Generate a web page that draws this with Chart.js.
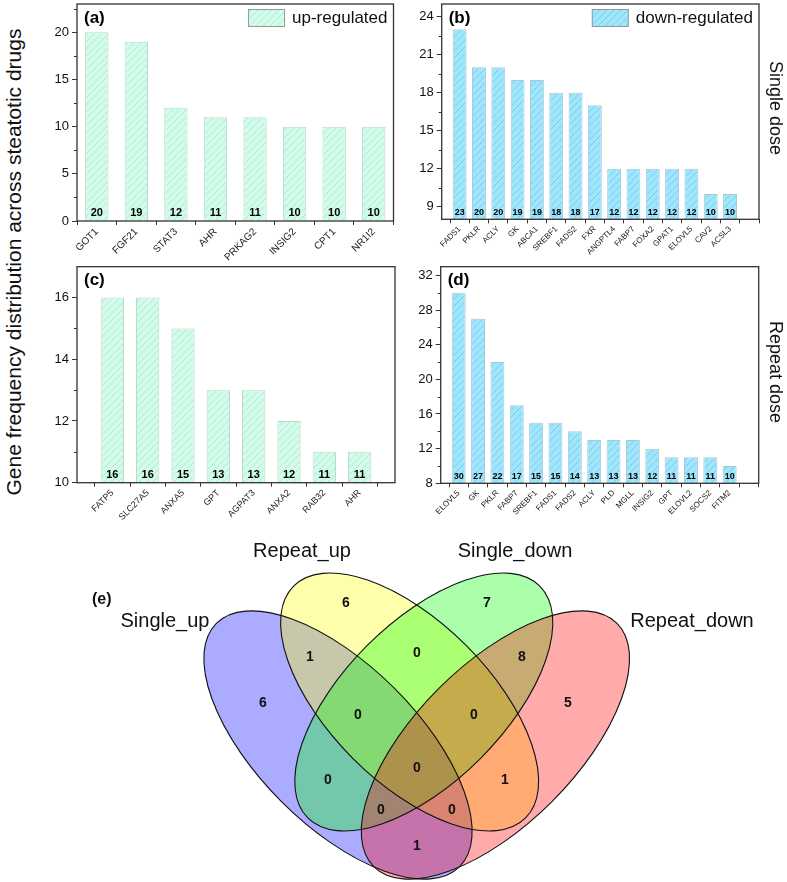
<!DOCTYPE html>
<html>
<head>
<meta charset="utf-8">
<script src="https://cdn.jsdelivr.net/npm/chart.js@4.4.1/dist/chart.umd.min.js"></script>
<style>
  body { margin: 0; background: #fff; }
  #wrap { position: relative; width: 787px; height: 882px; overflow: hidden; font-family: Arial, "Liberation Sans", sans-serif; }
  canvas { position: absolute; }
  .vt { position: absolute; white-space: nowrap; font-size: 18px; color: #111; }
</style>
</head>
<body>
<div id="wrap">
  <canvas id="cA"></canvas>
  <canvas id="cB"></canvas>
  <canvas id="cC"></canvas>
  <canvas id="cD"></canvas>
  <canvas id="cV"></canvas>
  <div class="vt" style="left:14px;top:262px;font-size:21px;transform:translate(-50%,-50%) rotate(-90deg);">Gene frequency distribution across steatotic drugs</div>
  <div class="vt" style="left:775px;top:108px;transform:translate(-50%,-50%) rotate(90deg);">Single dose</div>
  <div class="vt" style="left:775px;top:372px;transform:translate(-50%,-50%) rotate(90deg);">Repeat dose</div>
  <div class="vt" style="left:92px;top:590px;font-weight:bold;font-size:16px;">(e)</div>
</div>
<script>
const FONT = 'Arial, "Liberation Sans", sans-serif';

// (a) single dose, up-regulated
const upSingleGenes = ['GOT1', 'FGF21', 'STAT3', 'AHR', 'PRKAG2', 'INSIG2', 'CPT1', 'NR1I2'];
const upSingleCounts = [20, 19, 12, 11, 11, 10, 10, 10];
// (b) single dose, down-regulated
const downSingleGenes = ['FADS1', 'PKLR', 'ACLY', 'GK', 'ABCA1', 'SREBF1', 'FADS2', 'FXR', 'ANGPTL4', 'FABP7', 'FOXA2', 'GPAT1', 'ELOVL5', 'CAV2', 'ACSL3'];
const downSingleCounts = [23, 20, 20, 19, 19, 18, 18, 17, 12, 12, 12, 12, 12, 10, 10];
// (c) repeat dose, up-regulated
const upRepeatGenes = ['FATP5', 'SLC27A5', 'ANXA5', 'GPT', 'AGPAT3', 'ANXA2', 'RAB32', 'AHR'];
const upRepeatCounts = [16, 16, 15, 13, 13, 12, 11, 11];
// (d) repeat dose, down-regulated
const downRepeatGenes = ['ELOVL5', 'GK', 'PKLR', 'FABP7', 'SREBF1', 'FADS1', 'FADS2', 'ACLY', 'PLD', 'MGLL', 'INSIG2', 'GPT', 'ELOVL2', 'SOCS2', 'FITM2'];
const downRepeatCounts = [30, 27, 22, 17, 15, 15, 14, 13, 13, 13, 12, 11, 11, 11, 10];

// y ticks
const yTicksA = [0, 5, 10, 15, 20];
const yMinorA = [2.5, 7.5, 12.5, 17.5, 22.5];
const yTicksB = [9, 12, 15, 18, 21, 24];
const yMinorB = [10.5, 13.5, 16.5, 19.5, 22.5];
const yTicksC = [10, 12, 14, 16];
const yMinorC = [11, 13, 15];
const yTicksD = [8, 12, 16, 20, 24, 28, 32];
const yMinorD = [10, 14, 18, 22, 26, 30];

// (e) venn
const vennSets = ['Single_up', 'Repeat_up', 'Single_down', 'Repeat_down'];
const vennRegions = ['SU', 'RU', 'SD', 'RD', 'SU&RU', 'RU&SD', 'SD&RD', 'SU&RU&SD', 'RU&SD&RD', 'SU&SD', 'ALL', 'RU&RD', 'SU&SD&RD', 'SU&RU&RD', 'SU&RD'];
const vennCounts = [6, 6, 7, 5, 1, 0, 8, 0, 0, 0, 0, 1, 0, 0, 1];

// ---- layout (page pixels) ----
const vennRegionPos = [
    [263, 703], [346, 603], [487, 603], [568, 703], [310, 657], [417, 653], [522, 657],
    [358, 715], [474, 715], [328, 780], [417, 768], [505, 780], [381, 810], [452, 810], [417, 846]
];
const vennShapes = [
    { cx: 338, cy: 745, a: 172, b: 80, rot: 45, rgb: '0,0,255' },
    { cx: 409.6, cy: 702, a: 164, b: 80, rot: 45, rgb: '255,255,0' },
    { cx: 423.8, cy: 702, a: 164, b: 80, rot: -45, rgb: '0,255,0' },
    { cx: 495.4, cy: 745, a: 172, b: 80, rot: -45, rgb: '255,0,0' }
];
const vennNamePos = [[165, 621], [302, 551], [515, 551], [692, 621]];

function hatch(bg, line) {
    const c = document.createElement('canvas');
    c.width = 7; c.height = 7;
    const g = c.getContext('2d');
    g.fillStyle = bg;
    g.fillRect(0, 0, 7, 7);
    g.strokeStyle = line;
    g.lineWidth = 0.8;
    g.beginPath();
    g.moveTo(0, 7); g.lineTo(7, 0);
    g.moveTo(-1, 1); g.lineTo(1, -1);
    g.moveTo(6, 8); g.lineTo(8, 6);
    g.stroke();
    return g.createPattern(c, 'repeat');
}

const GREEN = { fill: hatch('#d2fcea', '#a9e3c8'), border: '#bcd9cc' };
const BLUE = { fill: hatch('#9fe5fb', '#74c6e4'), border: '#a6c9d8' };

const panelDeco = {
    id: 'panelDeco',
    afterDraw(chart, args, o) {
        const { ctx, chartArea: ca, scales } = chart;
        ctx.save();
        // minor ticks
        ctx.strokeStyle = '#333';
        ctx.lineWidth = 1;
        ctx.beginPath();
        o.minor.forEach(v => {
            const y = Math.round(scales.y.getPixelForValue(v)) + 0.5;
            ctx.moveTo(ca.left - 3, y);
            ctx.lineTo(ca.left, y);
        });
        ctx.stroke();
        // frame
        ctx.lineWidth = 1.3;
        ctx.strokeStyle = '#333';
        ctx.strokeRect(ca.left, ca.top, ca.right - ca.left, ca.bottom - ca.top);

        // counts at bar foot
        const meta = chart.getDatasetMeta(0);
        const data = chart.data.datasets[0].data;
        ctx.fillStyle = '#000';
        ctx.font = 'bold ' + o.valueSize + 'px ' + FONT;
        ctx.textAlign = 'center';
        ctx.textBaseline = 'middle';
        meta.data.forEach((bar, i) => ctx.fillText(data[i].y, bar.x, ca.bottom - o.valueLift));

        // panel letter
        ctx.font = 'bold 17px ' + FONT;
        ctx.textAlign = 'left';
        ctx.fillText(o.letter, ca.left + 7, ca.top + 14);

        // legend
        if (o.legend) {
            ctx.font = '17px ' + FONT;
            const tw = ctx.measureText(o.legend).width;
            const tx = ca.right - 6 - tw;
            const bx = tx - 7 - 37, by = ca.top + 5;
            ctx.fillStyle = chart.data.datasets[0].backgroundColor;
            ctx.fillRect(bx, by, 37, 18);
            ctx.strokeStyle = '#999';
            ctx.lineWidth = 1;
            ctx.strokeRect(bx + 0.5, by + 0.5, 36, 17);
            ctx.fillStyle = '#111';
            ctx.fillText(o.legend, tx, by + 9);
        }
        ctx.restore();
    }
};

function makePanel(p) {
    const cv = document.getElementById(p.id);
    cv.width = p.box.w;
    cv.height = p.box.h;
    cv.style.left = p.box.l + 'px';
    cv.style.top = p.box.t + 'px';
    const yW = p.plot.l - p.box.l;
    const xH = p.box.t + p.box.h - p.plot.b;

    new Chart(cv, {
        type: 'bar',
        data: {
            datasets: [{
                data: p.counts.map((v, i) => ({ x: i + 1, y: v })),
                backgroundColor: p.color.fill,
                borderColor: p.color.border,
                borderWidth: 1,
                borderSkipped: 'start',
                barPercentage: p.barPct,
                categoryPercentage: 1
            }]
        },
        options: {
            responsive: false,
            animation: false,
            layout: { padding: { top: p.plot.t - p.box.t, right: p.box.l + p.box.w - p.plot.r, left: 0, bottom: 0 } },
            scales: {
                x: {
                    type: 'linear',
                    min: p.xRange[0],
                    max: p.xRange[1],
                    offset: false,
                    afterBuildTicks: s => { s.ticks = p.xTicks.map(v => ({ value: v })); },
                    afterFit: s => { s.height = xH; s.paddingLeft = 0; s.paddingRight = 0; },
                    grid: { drawOnChartArea: false, drawTicks: true, tickLength: 4, color: '#333' },
                    border: { display: false },
                    ticks: {
                        autoSkip: false, minRotation: 45, maxRotation: 45, padding: 1,
                        color: '#222', font: { size: p.xFont, family: FONT },
                        callback: v => p.genes[v - 1] || ''
                    }
                },
                y: {
                    min: p.yRange[0],
                    max: p.yRange[1],
                    afterBuildTicks: s => { s.ticks = p.yTicks.map(v => ({ value: v })); },
                    afterFit: s => { s.width = yW; s.paddingTop = 0; s.paddingBottom = 0; },
                    grid: { drawOnChartArea: false, drawTicks: true, tickLength: 5, color: '#333' },
                    border: { display: false },
                    ticks: { color: '#111', padding: 3, font: { size: 13, family: FONT } }
                }
            },
            plugins: {
                legend: { display: false },
                tooltip: { enabled: false },
                panelDeco: { minor: p.yMinor, letter: p.letter, legend: p.legend, valueSize: p.valueSize, valueLift: p.valueLift }
            }
        },
        plugins: [panelDeco]
    });
}

const idx = n => Array.from({ length: n }, (_, i) => i + 1);

makePanel({
    id: 'cA', box: { l: 30, t: 0, w: 370, h: 262 }, plot: { l: 77, t: 4, r: 393.5, b: 221 },
    genes: upSingleGenes, counts: upSingleCounts, xTicks: idx(8), xRange: [0.5, 8.5],
    yRange: [0, 23], yTicks: yTicksA, yMinor: yMinorA, color: GREEN, barPct: 0.59,
    xFont: 10, valueSize: 11, valueLift: 8, letter: '(a)', legend: 'up-regulated'
});
makePanel({
    id: 'cB', box: { l: 400, t: 0, w: 387, h: 262 }, plot: { l: 441.7, t: 4, r: 759, b: 219.3 },
    genes: downSingleGenes, counts: downSingleCounts, xTicks: idx(16), xRange: [0.07, 16.5],
    yRange: [8, 25], yTicks: yTicksB, yMinor: yMinorB, color: BLUE, barPct: 0.72,
    xFont: 8, valueSize: 9, valueLift: 7, letter: '(b)', legend: 'down-regulated'
});
makePanel({
    id: 'cC', box: { l: 30, t: 262, w: 370, h: 265 }, plot: { l: 77, t: 266.7, r: 395, b: 482.7 },
    genes: upRepeatGenes, counts: upRepeatCounts, xTicks: idx(8), xRange: [0, 9],
    yRange: [10, 17], yTicks: yTicksC, yMinor: yMinorC, color: GREEN, barPct: 0.66,
    xFont: 9, valueSize: 11, valueLift: 8, letter: '(c)', legend: null
});
makePanel({
    id: 'cD', box: { l: 400, t: 262, w: 387, h: 265 }, plot: { l: 440.7, t: 266.7, r: 758.7, b: 483.3 },
    genes: downRepeatGenes, counts: downRepeatCounts, xTicks: idx(16), xRange: [0.07, 16.5],
    yRange: [8, 33], yTicks: yTicksD, yMinor: yMinorD, color: BLUE, barPct: 0.72,
    xFont: 8, valueSize: 9, valueLift: 7, letter: '(d)', legend: null
});

// ---- Venn diagram ----
const vennPlugin = {
    id: 'vennDraw',
    beforeDatasetsDraw(chart) {
        const { ctx, scales: { x, y } } = chart;
        ctx.save();
        const shapes = vennShapes.map(e => {
            const px = x.getPixelForValue(e.cx), py = y.getPixelForValue(e.cy);
            return {
                px, py,
                ra: x.getPixelForValue(e.cx + e.a) - px,
                rb: x.getPixelForValue(e.cx + e.b) - px,
                rot: e.rot * Math.PI / 180, rgb: e.rgb
            };
        });
        shapes.forEach(s => {
            ctx.beginPath();
            ctx.ellipse(s.px, s.py, s.ra, s.rb, s.rot, 0, Math.PI * 2);
            ctx.fillStyle = 'rgba(' + s.rgb + ',0.33)';
            ctx.fill();
        });
        ctx.strokeStyle = '#111';
        ctx.lineWidth = 1.1;
        shapes.forEach(s => {
            ctx.beginPath();
            ctx.ellipse(s.px, s.py, s.ra, s.rb, s.rot, 0, Math.PI * 2);
            ctx.stroke();
        });
        ctx.fillStyle = '#111';
        ctx.font = '20px ' + FONT;
        ctx.textAlign = 'center';
        ctx.textBaseline = 'middle';
        vennSets.forEach((name, i) => {
            ctx.fillText(name, x.getPixelForValue(vennNamePos[i][0]), y.getPixelForValue(vennNamePos[i][1]));
        });
        ctx.restore();
    },
    afterDatasetsDraw(chart) {
        const { ctx } = chart;
        const meta = chart.getDatasetMeta(0);
        ctx.save();
        ctx.fillStyle = '#111';
        ctx.font = 'bold 14px ' + FONT;
        ctx.textAlign = 'center';
        ctx.textBaseline = 'middle';
        meta.data.forEach((pt, i) => ctx.fillText(vennCounts[i], pt.x, pt.y));
        ctx.restore();
    }
};

const cv = document.getElementById('cV');
cv.width = 787; cv.height = 355;
cv.style.left = '0px'; cv.style.top = '527px';
new Chart(cv, {
    type: 'scatter',
    data: {
        labels: vennRegions,
        datasets: [{ data: vennRegionPos.map(p => ({ x: p[0], y: p[1] })), pointRadius: 0 }]
    },
    options: {
        responsive: false,
        animation: false,
        layout: { padding: 0 },
        scales: {
            x: { type: 'linear', min: 0, max: 787, display: false },
            y: { type: 'linear', min: 527, max: 882, reverse: true, display: false }
        },
        plugins: { legend: { display: false }, tooltip: { enabled: false } }
    },
    plugins: [vennPlugin]
});
</script>
</body>
</html>
